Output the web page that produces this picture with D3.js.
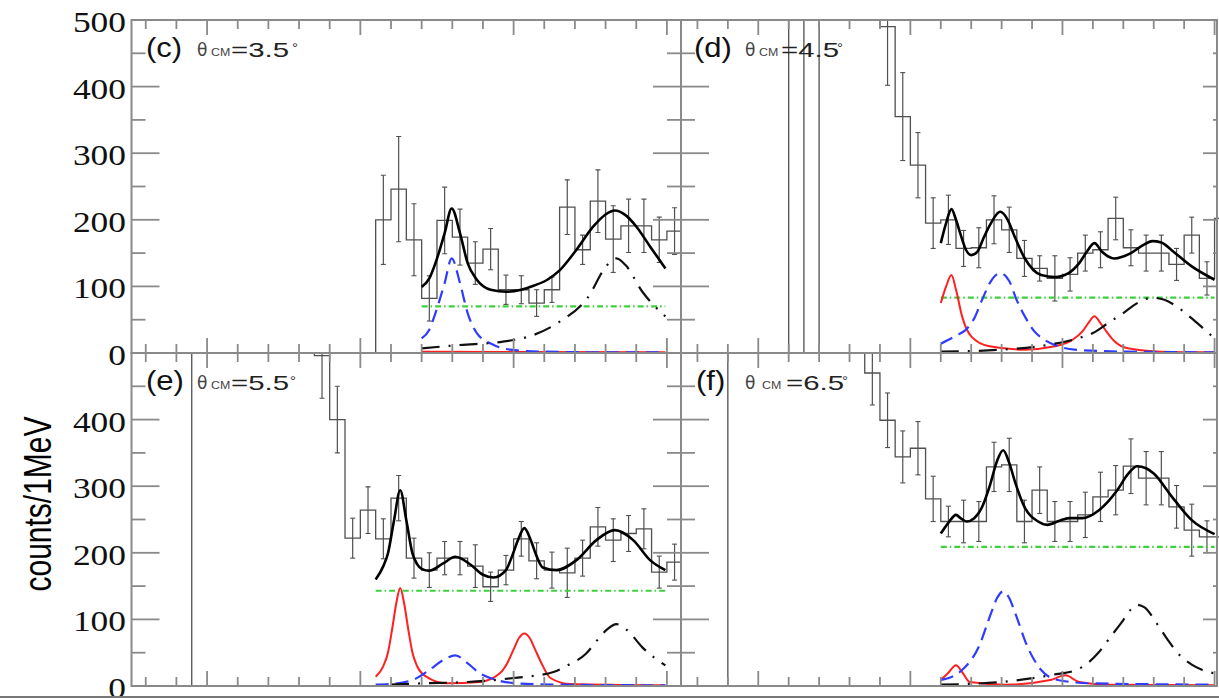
<!DOCTYPE html>
<html><head><meta charset="utf-8">
<script src="https://cdn.jsdelivr.net/npm/d3@7"></script>
<style>body{margin:0;background:#fff}svg{display:block}</style>
</head><body>
<svg id="chart" width="1219" height="698"></svg>
<script>
// ================= DATA =================
const yTickLabels = [0, 100, 200, 300, 400, 500];
const xTickLabels = [0, 10, 20, 30];
const panelTags = ["(c)", "(d)", "(e)", "(f)"];
const panelAngles = ["3.5", "4.5", "5.5", "6.5"];
const yTitle = "counts/1MeV";

// histograms: low edge of first bin (MeV), counts per 1-MeV bin, errors
// (values of 600 are off-scale bins, drawn clipped at the top)
const histC_start = 11;
const histC = [200,246,170,82,199,174,135,156,95,95,75,95,219,155,228,171,191,191,170,183];
const histC_err = [67,79,54,34,50,42,32,31,22,21,20,19,41,22,47,50,40,40,34,35];

const histD_start = 2;
const histD = [600,0,600,600,600,600,490,355,282,195,200,157,158,200,185,142,127,112,118,150,155,202,158,150,150,133,177,112,202];
const histD_err = [0,0,0,0,0,0,88,66,49,38,37,27,30,36,34,27,19,34,25,27,27,32,27,27,27,24,27,25,32];

const histE_start = -1;
const histE = [600,600,600,600,600,600,600,600,496,400,222,264,221,282,192,174,192,192,180,149,174,221,188,174,170,192,239,219,229,236,171,186];
const histE_err = [0,0,0,0,0,0,0,0,64,50,30,35,30,34,30,26,25,25,32,22,22,26,27,27,37,27,29,32,27,30,24,27];

const histF_start = -2;
const histF = [600,600,600,600,600,600,600,600,600,470,399,344,357,281,247,247,247,329,332,247,294,247,247,257,284,294,330,312,312,269,234,224,224];
const histF_err = [0,0,0,0,0,0,0,0,0,48,41,39,40,34,23,32,30,37,40,32,35,30,30,34,37,37,41,40,40,32,39,24,24];

// fit components, [MeV, counts]
const fitC_total = [[14,99],[14.5,112],[14.9,135],[15.5,180],[15.96,217],[16.5,180],[17,135],[17.6,110],[18.5,95],[19.55,92],[20.5,95],[21.3,101],[22.2,110],[23,124],[24.1,155],[25.2,190],[26.0,208],[26.6,214],[27.3,207],[28,190],[28.9,160],[29.9,127]];
const fitC_blue = [[14,22],[14.5,35],[14.9,60],[15.5,105],[15.96,142],[16.5,105],[17,60],[17.6,30],[18.7,12],[19.8,5],[22,2],[26,1],[29.9,1]];
const fitC_green = [[14,70],[29.9,70]];
const fitC_red = [[14,2],[29.9,1]];
const fitC_dd = [[14,7],[16.5,12],[19.3,17],[21.3,27],[23,47],[24.8,82],[26.1,132],[26.7,142],[27.3,132],[28.4,92],[29.9,55]];

const fitD_total = [[12,165],[12.35,195],[12.7,216],[13.0,200],[13.3,178],[13.65,155],[14.0,147],[14.4,152],[14.8,172],[15.3,195],[15.9,212],[16.4,200],[16.8,178],[17.5,143],[18.6,117],[19.5,114],[20.4,120],[21.1,135],[21.6,152],[22.1,165],[22.6,152],[23.4,142],[24.5,150],[25.3,162],[25.9,168],[26.5,166],[27.2,154],[28.5,130],[30,110]];
const fitD_red = [[12,75],[12.35,100],[12.7,117],[13.0,95],[13.4,55],[14,25],[15.2,10],[17.5,5],[19.5,10],[20.6,19],[21.3,32],[21.7,45],[22.1,55],[22.5,45],[22.9,32],[23.4,18],[24.3,7],[26.5,2],[30,1]];
const fitD_blue = [[12,14],[13,26],[13.6,34],[14.2,52],[14.7,79],[15.3,108],[15.9,120],[16.5,108],[17,79],[17.6,52],[18.1,34],[18.8,20],[19.5,12],[20.8,5],[24.3,2],[30,1]];
const fitD_green = [[12,83],[30,83]];
const fitD_dd = [[12,2],[16,5],[19.5,14],[21,22],[22,30],[23,45],[24,60],[25,76],[25.9,83],[26.7,80],[27.5,70],[28.5,52],[29.3,36],[30,22]];

const fitE_total = [[11,160],[11.5,180],[11.8,199],[12.2,249],[12.6,294],[13.0,249],[13.4,199],[13.7,183],[14.0,176],[14.5,173],[15.4,184],[16.2,194],[17.2,182],[18.0,167],[18.7,163],[19.5,174],[19.9,195],[20.3,220],[20.7,237],[21.1,220],[21.5,195],[21.9,178],[22.8,174],[24.1,189],[25.4,219],[26.6,234],[27.8,219],[28.9,189],[29.9,174]];
const fitE_red = [[11,14],[11.5,30],[11.8,50],[12.1,89],[12.35,125],[12.6,147],[12.85,125],[13.1,89],[13.4,50],[13.7,30],[14.3,14],[15.6,4],[17.8,6],[19.1,19],[19.6,35],[20.0,55],[20.35,72],[20.7,79],[21.05,72],[21.4,55],[21.8,35],[22.4,12],[23.7,3],[29.9,1]];
const fitE_blue = [[11,2],[12,3],[13.6,11],[14.5,24],[15.4,39],[16.2,46],[16.9,36],[17.8,19],[18.9,9],[20.2,4],[23.2,2],[29.9,1]];
const fitE_green = [[11,143],[29.9,143]];
const fitE_dd = [[12,2],[14,4],[17,6],[20,12],[22.6,21],[23.6,32],[24.7,48],[25.5,70],[26.1,85],[26.7,93],[27.4,84],[28.4,58],[29.9,31]];

const fitF_total = [[12,229],[12.5,245],[13.0,257],[13.3,252],[13.7,247],[14.2,252],[14.7,268],[15.2,299],[15.7,338],[16.1,354],[16.5,335],[16.9,305],[17.5,269],[18.4,247],[19.0,242],[19.9,249],[20.5,252],[21.3,252],[22.4,264],[23.6,294],[24.3,318],[24.9,330],[25.5,327],[26.0,319],[27.2,284],[28.5,249],[30,228]];
const fitF_red = [[12,9],[12.5,20],[13.0,31],[13.4,21],[13.9,6],[16.3,2],[19.2,9],[20.2,16],[21.1,6],[23.1,2],[30,1]];
const fitF_blue = [[12,9],[13.4,24],[14.5,59],[15.3,109],[15.7,132],[16.1,142],[16.5,132],[16.9,109],[17.7,59],[18.6,24],[19.7,9],[21.9,4],[30,2]];
const fitF_green = [[12,209],[30,209]];
const fitF_dd = [[12,2],[16,6],[19.4,17],[20.9,24],[21.7,35],[22.4,51],[23.2,75],[24.0,99],[24.5,115],[24.9,122],[25.4,118],[26.2,94],[26.9,70],[27.6,49],[28.5,32],[29.2,24],[30,19]];

// ================= LAYOUT / STYLE =================
const W = 1219, H = 698;
const svg = d3.select("#chart");
const FRAME = "#8a8a8a", HIST = "#505050";
const layouts = [
  {x0:131.5, x1:681, y0:20, y1:353, dom:[-4.93, 30.92], yLabels:true, xLabels:false, right:681,
   tag:[146,57], th:197, cm:211, eq:231, deg:292},
  {x0:681, x1:1217, y0:20, y1:353, dom:[-5.08, 30.16], yLabels:false, xLabels:false, right:1219,
   tag:[694,57], th:745, cm:759, eq:781, deg:837},
  {x0:131.5, x1:681, y0:353, y1:686, dom:[-4.93, 30.92], yLabels:true, xLabels:true, right:681,
   tag:[146,390], th:197, cm:211, eq:231, deg:290},
  {x0:681, x1:1217, y0:353, y1:686, dom:[-5.08, 30.16], yLabels:false, xLabels:false, right:1219,
   tag:[696,390], th:745, cm:762, eq:786, deg:842}
];
const hists = [
  {start:histC_start, v:histC, e:histC_err},
  {start:histD_start, v:histD, e:histD_err},
  {start:histE_start, v:histE, e:histE_err},
  {start:histF_start, v:histF, e:histF_err}
];
const fits = [
  {green:fitC_green, red:fitC_red, blue:fitC_blue, dd:fitC_dd, total:fitC_total},
  {green:fitD_green, red:fitD_red, blue:fitD_blue, dd:fitD_dd, total:fitD_total},
  {green:fitE_green, red:fitE_red, blue:fitE_blue, dd:fitE_dd, total:fitE_total},
  {green:fitF_green, red:fitF_red, blue:fitF_blue, dd:fitF_dd, total:fitF_total}
];
const fitStyles = {
  green:{stroke:"#3fcf3f", width:2.2, dash:"6,3,1.5,3"},
  red:{stroke:"#ff2020", width:2, dash:null},
  blue:{stroke:"#2f3cff", width:2.2, dash:"13,7"},
  dd:{stroke:"#111", width:2.2, dash:"18,9,2,9"},
  total:{stroke:"#000", width:2.6, dash:null}
};

function txt(x, y, s, o) {
  return svg.append("text")
    .attr("transform", `translate(${x},${y}) scale(${o.sx || 1},${o.sy || 1})`)
    .attr("font-family", o.ff || "Liberation Sans, Arial, sans-serif")
    .attr("font-size", o.fs)
    .attr("text-anchor", o.anchor || "start")
    .attr("fill", o.fill || "#000")
    .text(s);
}

const defs = svg.append("defs");

layouts.forEach((L, i) => {
  const x = d3.scaleLinear().domain(L.dom).range([L.x0, L.x1]);
  const y = d3.scaleLinear().domain([0, 500]).range([L.y1, L.y0]);
  const clipId = "clip" + i;
  defs.append("clipPath").attr("id", clipId).append("rect")
    .attr("x", L.x0).attr("y", L.y0).attr("width", L.right - L.x0).attr("height", L.y1 - L.y0);
  const g = svg.append("g").attr("clip-path", `url(#${clipId})`);

  // histogram step outline
  const h = hists[i];
  const pts = [[L.dom[0], 0], [h.start, 0]];
  h.v.forEach((v, k) => { pts.push([h.start + k, v]); pts.push([h.start + k + 1, v]); });
  const line = d3.line().x(d => x(d[0])).y(d => y(d[1]));
  g.append("path").attr("d", line(pts)).attr("fill", "none")
    .attr("stroke", HIST).attr("stroke-width", 1.3);
  // error bars
  h.v.forEach((v, k) => {
    const e = h.e[k];
    if (!e) return;
    const cx = x(h.start + k + 0.5);
    g.append("line").attr("x1", cx).attr("x2", cx).attr("y1", y(v - e)).attr("y2", y(v + e))
      .attr("stroke", HIST).attr("stroke-width", 1.2);
    [v - e, v + e].forEach(t => g.append("line").attr("x1", cx - 2.5).attr("x2", cx + 2.5)
      .attr("y1", y(t)).attr("y2", y(t)).attr("stroke", HIST).attr("stroke-width", 1.1));
  });

  // fit curves
  const curve = d3.line().x(d => x(d[0])).y(d => y(d[1])).curve(d3.curveMonotoneX);
  ["green", "red", "blue", "dd", "total"].forEach(k => {
    const st = fitStyles[k];
    g.append("path").attr("d", curve(fits[i][k])).attr("fill", "none")
      .attr("stroke", st.stroke).attr("stroke-width", st.width)
      .attr("stroke-dasharray", st.dash).attr("stroke-linecap", "butt");
  });

  // frame
  svg.append("rect").attr("x", L.x0).attr("y", L.y0).attr("width", L.x1 - L.x0).attr("height", L.y1 - L.y0)
    .attr("fill", "none").attr("stroke", FRAME).attr("stroke-width", 2);

  // y ticks (both sides)
  const tk = svg.append("g").attr("stroke", FRAME).attr("stroke-width", 1.8);
  d3.range(0, 501, 50).forEach(v => {
    const major = v % 100 === 0;
    const len = major ? 28 : 14;
    const rlen = (i % 2 === 1) ? (major ? 14 : 4) : len;
    tk.append("line").attr("x1", L.x0).attr("x2", L.x0 + len).attr("y1", y(v)).attr("y2", y(v));
    tk.append("line").attr("x1", L.x1).attr("x2", L.x1 - rlen).attr("y1", y(v)).attr("y2", y(v));
  });
  // x ticks (top and bottom)
  const xt = d3.range(Math.ceil(L.dom[0] / 2) * 2, L.dom[1], 2);
  xt.forEach(v => {
    const major = v % 10 === 0;
    const len = major ? 15 : 9;
    tk.append("line").attr("x1", x(v)).attr("x2", x(v)).attr("y1", L.y0).attr("y2", L.y0 + len);
    tk.append("line").attr("x1", x(v)).attr("x2", x(v)).attr("y1", L.y1).attr("y2", L.y1 - len);
  });

  // y labels
  if (L.yLabels) {
    yTickLabels.forEach(v => {
      if (i === 2 && v === 500) return;
      txt(126, y(v) + 12, String(v), {ff: "Liberation Serif, Times New Roman, serif", fs: 30, sx: 1.18, anchor: "end", fill: "#111"});
    });
  }
  if (L.xLabels) {
    xTickLabels.forEach(v => {
      txt(x(v), L.y1 + 29, String(v), {ff: "Liberation Serif, Times New Roman, serif", fs: 30, sx: 1.18, anchor: "middle", fill: "#111"});
    });
  }

  // panel label
  txt(L.tag[0], L.tag[1], panelTags[i], {fs: 27, sx: 1.15, fill: "#111"});
  txt(L.th, L.tag[1] - 1, "θ", {ff: "DejaVu Sans, sans-serif", fs: 17, sx: 1.0, fill: "#444"});
  txt(L.cm, L.tag[1] - 1, "CM", {fs: 10.5, sx: 1.18, fill: "#444"});
  txt(L.eq, L.tag[1], "=" + panelAngles[i], {fs: 21, sx: 1.4, fill: "#222"});
  txt(L.deg, L.tag[1] - 4, "°", {fs: 15, sx: 1.0, fill: "#333"});
});

// y axis title
txt(51, 504, yTitle, {fs: 30, anchor: "middle"}).attr("transform", "translate(51,504) scale(1.3,1) rotate(-90)");

// top edge of the next row of panels (cut off)
svg.append("line").attr("x1", 0).attr("x2", W).attr("y1", 697).attr("y2", 697)
  .attr("stroke", "#777").attr("stroke-width", 2);
</script>
</body></html>
